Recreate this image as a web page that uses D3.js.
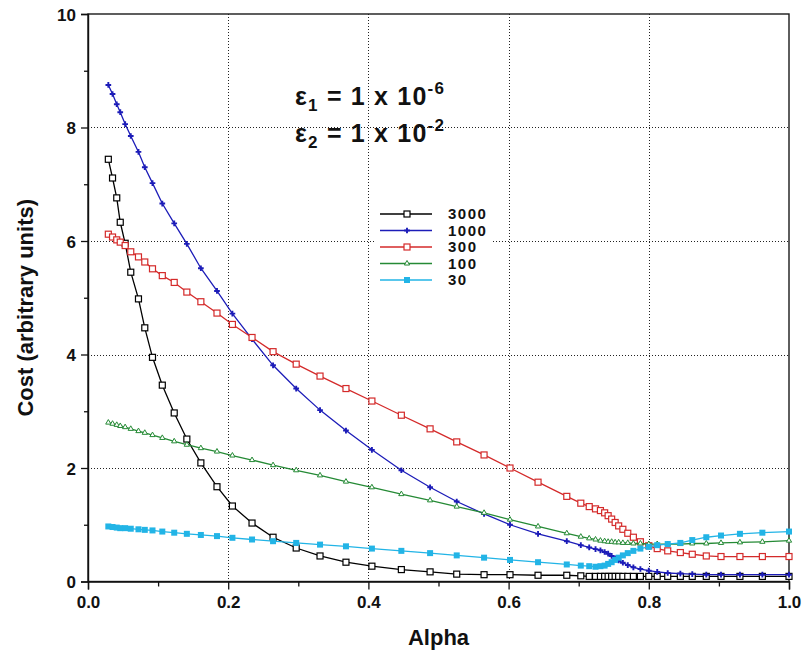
<!DOCTYPE html>
<html>
<head>
<meta charset="utf-8">
<script src="https://cdn.jsdelivr.net/npm/d3@7/dist/d3.min.js"></script>
<style>
  body { margin: 0; background: #fff; }
  svg { display: block; font-family: "Liberation Sans", Arial, sans-serif; }
</style>
</head>
<body>
<svg id="chart" width="804" height="655"></svg>
<script>
// sweep of alpha (shared by every run)
const alpha = [0.029, 0.035, 0.041, 0.046, 0.053, 0.061, 0.072, 0.081, 0.092, 0.106,
  0.123, 0.141, 0.161, 0.184, 0.206, 0.234, 0.264, 0.297, 0.331, 0.368,
  0.405, 0.447, 0.488, 0.526, 0.565, 0.602, 0.642, 0.683, 0.703, 0.715,
  0.724, 0.731, 0.737, 0.742, 0.747, 0.752, 0.757, 0.763, 0.770, 0.778,
  0.788, 0.800, 0.812, 0.827, 0.845, 0.862, 0.882, 0.903, 0.930, 0.962, 1.0];

const cost3000 = [7.44, 7.11, 6.76, 6.33, 5.96, 5.45, 4.98, 4.47, 3.95, 3.46,
  2.97, 2.51, 2.09, 1.67, 1.33, 1.03, 0.78, 0.59, 0.45, 0.34,
  0.27, 0.21, 0.17, 0.13, 0.12, 0.12, 0.11, 0.11, 0.10, 0.09,
  0.09, 0.09, 0.09, 0.09, 0.09, 0.09, 0.09, 0.09, 0.09, 0.09,
  0.09, 0.09, 0.09, 0.09, 0.09, 0.09, 0.09, 0.09, 0.09, 0.09, 0.09];

const cost1000 = [8.75, 8.59, 8.41, 8.27, 8.06, 7.85, 7.57, 7.30, 7.02, 6.66,
  6.31, 5.95, 5.52, 5.12, 4.72, 4.27, 3.81, 3.40, 3.02, 2.66,
  2.32, 1.96, 1.66, 1.41, 1.19, 1.00, 0.84, 0.71, 0.64, 0.60,
  0.57, 0.55, 0.52, 0.49, 0.45, 0.41, 0.37, 0.33, 0.29, 0.25,
  0.22, 0.19, 0.17, 0.15, 0.14, 0.13, 0.12, 0.12, 0.12, 0.12, 0.12];

const cost300 = [6.12, 6.07, 6.02, 5.98, 5.92, 5.81, 5.72, 5.63, 5.51, 5.39,
  5.27, 5.10, 4.93, 4.73, 4.53, 4.30, 4.05, 3.83, 3.62, 3.40,
  3.18, 2.93, 2.69, 2.46, 2.23, 2.00, 1.75, 1.50, 1.38, 1.32,
  1.28, 1.25, 1.21, 1.16, 1.10, 1.04, 0.98, 0.92, 0.85, 0.78,
  0.70, 0.63, 0.58, 0.54, 0.51, 0.48, 0.45, 0.44, 0.44, 0.44, 0.44];

const cost100 = [2.80, 2.78, 2.76, 2.74, 2.72, 2.69, 2.65, 2.62, 2.58, 2.53,
  2.47, 2.41, 2.35, 2.29, 2.22, 2.14, 2.05, 1.96, 1.87, 1.76,
  1.66, 1.54, 1.43, 1.32, 1.21, 1.09, 0.97, 0.85, 0.79, 0.76,
  0.74, 0.72, 0.71, 0.70, 0.70, 0.69, 0.69, 0.68, 0.68, 0.67,
  0.67, 0.66, 0.66, 0.66, 0.66, 0.67, 0.67, 0.68, 0.69, 0.70, 0.72];

const cost30 = [0.97, 0.96, 0.95, 0.94, 0.94, 0.93, 0.92, 0.91, 0.90, 0.88,
  0.86, 0.84, 0.82, 0.80, 0.77, 0.74, 0.71, 0.68, 0.65, 0.62,
  0.58, 0.54, 0.50, 0.46, 0.42, 0.38, 0.34, 0.30, 0.28, 0.27,
  0.26, 0.27, 0.28, 0.31, 0.34, 0.38, 0.42, 0.46, 0.50, 0.54,
  0.58, 0.61, 0.64, 0.66, 0.68, 0.73, 0.78, 0.81, 0.84, 0.86, 0.88];

const seriesNames = ["3000", "1000", "300", "100", "30"];
const seriesValues = [cost3000, cost1000, cost300, cost100, cost30];
const seriesColors = ["#000000", "#1c1cb8", "#d42a2a", "#258a35", "#22b4e6"];
const seriesMarkers = ["openSquare", "cross", "openSquare", "openTriangle", "filledSquare"];

const xTicks = [0, 0.2, 0.4, 0.6, 0.8, 1.0];
const xMinorTicks = [0.1, 0.3, 0.5, 0.7, 0.9];
const yTicks = [0, 2, 4, 6, 8, 10];
const yMinorTicks = [1, 3, 5, 7, 9];

const svg = d3.select("#chart");

const x = d3.scaleLinear().domain([0, 1]).range([88, 789]);
const y = d3.scaleLinear().domain([0, 10]).range([581.5, 14]);

// dotted grid
const grid = svg.append("g")
  .attr("stroke", "#222")
  .attr("stroke-width", 1)
  .attr("stroke-dasharray", "1,2");

grid.selectAll("line.gx")
  .data(xTicks.slice(1, -1))
  .join("line")
  .attr("class", "gx")
  .attr("x1", (d) => Math.round(x(d)) + 0.5)
  .attr("x2", (d) => Math.round(x(d)) + 0.5)
  .attr("y1", y(10))
  .attr("y2", y(0));

grid.selectAll("line.gy")
  .data(yTicks.slice(1, -1))
  .join("line")
  .attr("class", "gy")
  .attr("y1", (d) => Math.round(y(d)) + 0.5)
  .attr("y2", (d) => Math.round(y(d)) + 0.5)
  .attr("x1", x(0))
  .attr("x2", x(1));

// frame
svg.append("rect")
  .attr("x", x(0))
  .attr("y", y(10))
  .attr("width", x(1) - x(0))
  .attr("height", y(0) - y(10))
  .attr("fill", "none")
  .attr("stroke", "#1a1a1a")
  .attr("stroke-width", 1.4);

// axes
const xAxis = svg.append("g")
  .attr("transform", `translate(0,${y(0)})`)
  .call(d3.axisBottom(x).tickValues(xTicks).tickFormat(d3.format(".1f")).tickSize(8).tickPadding(6));

svg.append("g")
  .attr("transform", `translate(0,${y(0)})`)
  .call(d3.axisBottom(x).tickValues(xMinorTicks).tickFormat("").tickSize(5))
  .call((g) => g.select(".domain").remove());

const yAxis = svg.append("g")
  .attr("transform", `translate(${x(0)},0)`)
  .call(d3.axisLeft(y).tickValues(yTicks).tickSize(7).tickPadding(5));

svg.append("g")
  .attr("transform", `translate(${x(0)},0)`)
  .call(d3.axisLeft(y).tickValues(yMinorTicks).tickFormat("").tickSize(4))
  .call((g) => g.select(".domain").remove());

svg.selectAll(".tick line").attr("stroke", "#111").attr("stroke-width", 1.3);
svg.selectAll(".domain").attr("stroke", "#111").attr("stroke-width", 1.4);

xAxis.selectAll("text")
  .attr("font-size", 17)
  .attr("font-weight", "bold")
  .attr("fill", "#111");

yAxis.selectAll("text")
  .attr("font-size", 17)
  .attr("font-weight", "bold")
  .attr("fill", "#111")
  .attr("dy", "0.36em");

// axis titles
svg.append("text")
  .attr("x", (x(0) + x(1)) / 2)
  .attr("y", 645)
  .attr("text-anchor", "middle")
  .attr("font-size", 22)
  .attr("font-weight", "bold")
  .attr("fill", "#111")
  .text("Alpha");

svg.append("text")
  .attr("transform", `translate(33,${(y(0) + y(10)) / 2 + 10}) rotate(-90)`)
  .attr("text-anchor", "middle")
  .attr("font-size", 22)
  .attr("font-weight", "bold")
  .attr("fill", "#111")
  .text("Cost (arbitrary units)");

// marker drawing
const drawMarker = (sel, type, color) => {
  if (type === "openSquare") {
    sel.append("rect")
      .attr("x", -3).attr("y", -3).attr("width", 6).attr("height", 6)
      .attr("fill", "#fff").attr("stroke", color).attr("stroke-width", 1.2);
  } else if (type === "filledSquare") {
    sel.append("rect")
      .attr("x", -3).attr("y", -3).attr("width", 6).attr("height", 6)
      .attr("fill", color);
  } else if (type === "cross") {
    sel.append("path")
      .attr("d", d3.symbol(d3.symbolCross, 18)())
      .attr("fill", color);
  } else if (type === "openTriangle") {
    sel.append("path")
      .attr("d", d3.symbol(d3.symbolTriangle, 12)())
      .attr("fill", "#fff").attr("stroke", color).attr("stroke-width", 1);
  }
};

const line = d3.line()
  .x((d) => x(d[0]))
  .y((d) => y(d[1]));

seriesNames.forEach((name, i) => {
  const pts = alpha.map((a, j) => [a, seriesValues[i][j]]);
  const g = svg.append("g").attr("class", "series");
  g.append("path")
    .datum(pts)
    .attr("d", line)
    .attr("fill", "none")
    .attr("stroke", seriesColors[i])
    .attr("stroke-width", 1.3);
  g.selectAll("g.pt")
    .data(pts)
    .join("g")
    .attr("class", "pt")
    .attr("transform", (d) => `translate(${x(d[0])},${y(d[1])})`)
    .each(function () {
      drawMarker(d3.select(this), seriesMarkers[i], seriesColors[i]);
    });
});

// legend
const legend = svg.append("g").attr("transform", "translate(380,214)");
seriesNames.forEach((name, i) => {
  const row = legend.append("g").attr("transform", `translate(0,${i * 16.5})`);
  row.append("rect")
    .attr("x", -4).attr("y", -8).attr("width", 116).attr("height", 16)
    .attr("fill", "#fff");
  row.append("line")
    .attr("x1", 0).attr("x2", 52)
    .attr("stroke", seriesColors[i]).attr("stroke-width", 1.3);
  drawMarker(row.append("g").attr("transform", "translate(27,0)"), seriesMarkers[i], seriesColors[i]);
  row.append("text")
    .attr("x", 68)
    .attr("dy", "0.36em")
    .attr("font-size", 15)
    .attr("font-weight", "bold")
    .attr("letter-spacing", 1.5)
    .attr("fill", "#111")
    .text(name);
});

// epsilon annotation
const note = svg.append("g");
const addNote = (sub, exp, yPos) => {
  const t = note.append("text")
    .attr("x", 295)
    .attr("y", yPos)
    .attr("font-size", 25)
    .attr("font-weight", "bold")
    .attr("letter-spacing", 1.2)
    .attr("fill", "#111");
  t.append("tspan").text("ε");
  t.append("tspan").attr("font-size", 17).attr("dy", 6).text(sub);
  t.append("tspan").attr("dy", -6).text(" = 1 x 10");
  t.append("tspan").attr("font-size", 17).attr("dy", -11).text(exp);
};
addNote("1", "-6", 105);
addNote("2", "-2", 142);
</script>
</body>
</html>
